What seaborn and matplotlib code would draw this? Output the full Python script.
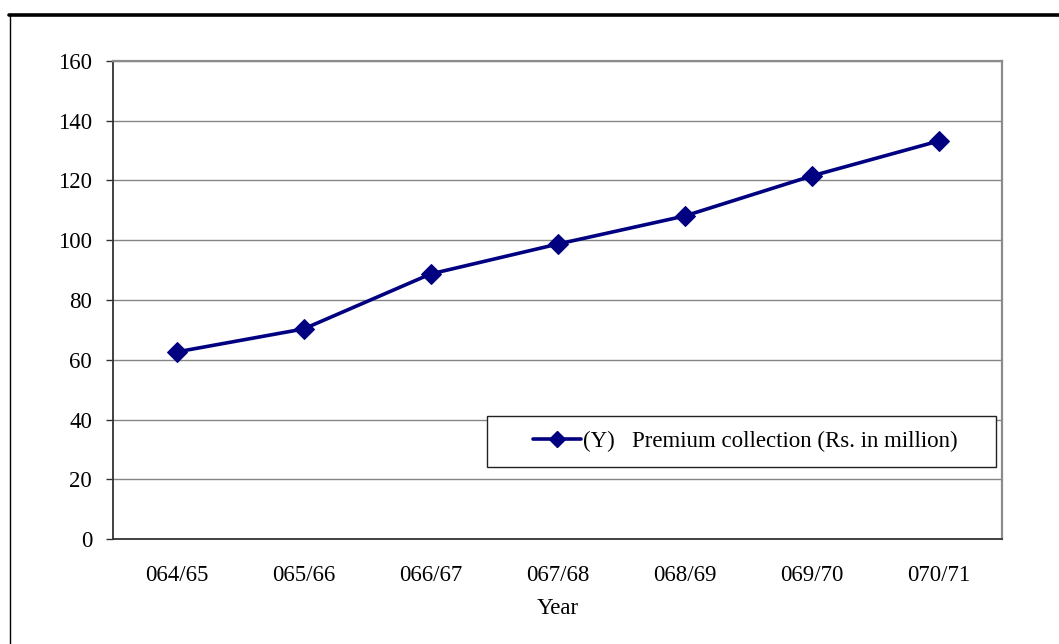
import matplotlib
matplotlib.use("Agg")
import matplotlib.pyplot as plt
from matplotlib.lines import Line2D
from matplotlib.patches import Rectangle
import seaborn as sns
import pandas as pd

# -----------------------
# Data
# -----------------------

years = ["064/65", "065/66", "066/67", "067/68", "068/69", "069/70", "070/71"]
premium = [62.6, 70.3, 88.7, 98.7, 108.1, 121.5, 133.2]
series_label = "(Y)   Premium collection (Rs. in million)"

data = pd.DataFrame({"Year": years, "Premium": premium})

# -----------------------
# Style
# -----------------------

sns.set_style("white")
plt.rcParams["font.family"] = ["Liberation Serif", "DejaVu Serif"]
plt.rcParams["text.color"] = "black"
plt.rcParams["axes.labelcolor"] = "black"
plt.rcParams["xtick.color"] = "black"
plt.rcParams["ytick.color"] = "black"

FS = 16.5

fig = plt.figure(figsize=(10.59, 6.44), dpi=100)
ax = fig.add_axes([113 / 1059, 1 - 539 / 644, 889 / 1059, 478 / 644])

sns.lineplot(
    x="Year",
    y="Premium",
    data=data,
    sort=False,
    color="#000080",
    linewidth=2.6,
    marker="D",
    markersize=10,
    markeredgecolor="#000080",
    ax=ax,
    zorder=3,
)

# -----------------------
# Axes
# -----------------------

ax.set_xlim(-0.5, len(years) - 0.5)
ax.set_ylim(0, 160)
ax.set_yticks(range(0, 161, 20))
ax.set_xticks([i for i in range(len(years))])
ax.set_xticklabels(years)
ax.set_xticks([i - 0.5 for i in range(len(years) + 1)], minor=True)
ax.tick_params(axis="x", which="major", length=0, pad=19, labelsize=FS)
ax.tick_params(axis="x", which="minor", length=5, width=1, direction="out", color="#333333")
ax.tick_params(axis="y", length=5, width=1, direction="out", pad=10, labelsize=FS, left=True, color="#333333")
ax.set_xlabel("Year", fontsize=FS, labelpad=8)
ax.set_ylabel("")

ax.yaxis.grid(True, color="#868686", linewidth=1)
ax.set_axisbelow(True)

for side in ["left", "bottom"]:
    ax.spines[side].set_color("#333333")
    ax.spines[side].set_linewidth(1.3)
for side in ["top", "right"]:
    ax.spines[side].set_color("#8c8c8c")
    ax.spines[side].set_linewidth(1.6)

# -----------------------
# Legend
# -----------------------

box = Rectangle(
    (0.4207, 0.1506), 0.5726, 0.1067,
    transform=ax.transAxes, facecolor="white", edgecolor="#222222",
    linewidth=1, zorder=4,
)
ax.add_patch(box)

leg = ax.legend(
    handles=[Line2D([], [], color="#000080", linewidth=2.6, marker="D", markersize=8)],
    labels=[series_label],
    loc="center",
    bbox_to_anchor=(0.711, 0.204),
    frameon=False,
    fontsize=FS,
    handlelength=2.1,
    handletextpad=0.1,
)
leg.set_zorder(5)

# -----------------------
# Outer frame
# -----------------------

fig.add_artist(Line2D([9 / 1059, 1], [1 - 14.5 / 644, 1 - 14.5 / 644], color="black", linewidth=2.6))
fig.add_artist(Line2D([9.5 / 1059, 9.5 / 1059], [0, 1 - 14.5 / 644], color="black", linewidth=1))

fig.savefig("out.png", dpi=100)
plt.close()
